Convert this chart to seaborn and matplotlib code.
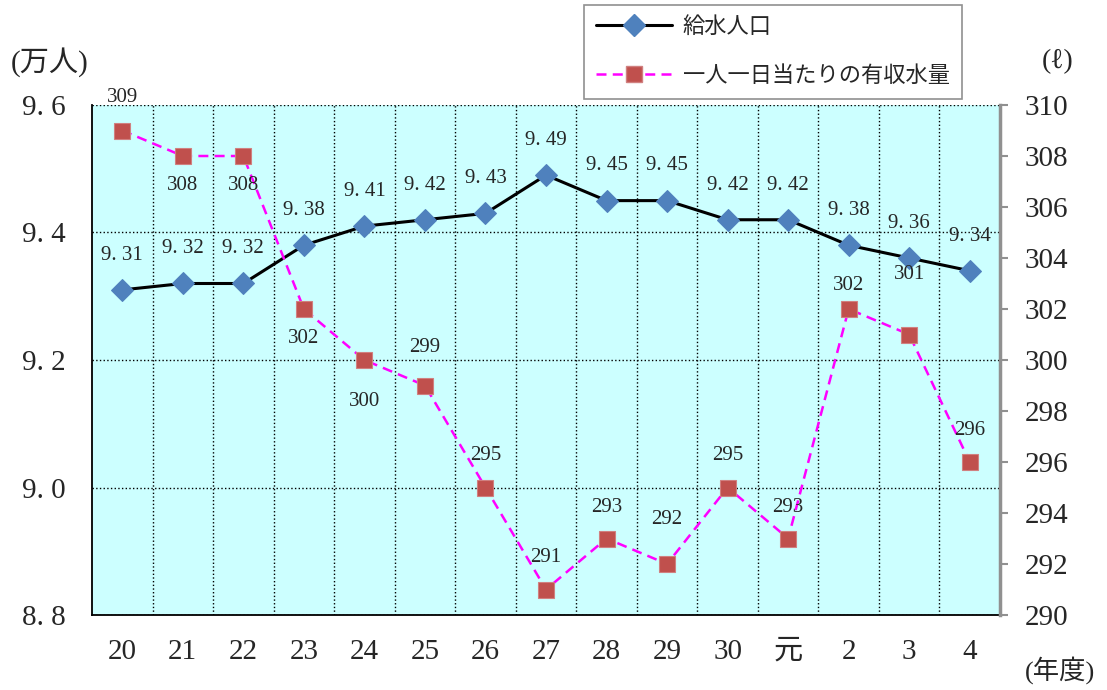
import numpy as np
import pandas as pd
import matplotlib
matplotlib.use("Agg")
import matplotlib.pyplot as plt
from matplotlib.lines import Line2D
import seaborn as sns

# 年度
years = ["20", "21", "22", "23", "24", "25", "26", "27", "28", "29", "30", "元", "2", "3", "4"]
# 給水人口（万人）
population = [9.31, 9.32, 9.32, 9.38, 9.41, 9.42, 9.43, 9.49, 9.45, 9.45, 9.42, 9.42, 9.38, 9.36, 9.34]
# 一人一日当たりの有収水量（ℓ）
water = [309, 308, 308, 302, 300, 299, 295, 291, 293, 292, 295, 293, 302, 301, 296]

left_ticks = [8.8, 9.0, 9.2, 9.4, 9.6]
right_ticks = list(range(290, 311, 2))

df = pd.DataFrame({"pos": np.arange(len(years)), "year": years,
                   "pop": population, "water": water})

sns.set_theme(style="white")
plt.rcParams["font.family"] = ["Liberation Serif", "Noto Sans CJK JP", "DejaVu Serif"]

fig = plt.figure(figsize=(11.07, 6.90), dpi=100)
ax = fig.add_axes([92 / 1107, 1 - 615 / 690, (1000 - 92) / 1107, (615 - 105) / 690])
ax.set_facecolor("#CCFFFF")
ax2 = ax.twinx()
ax2.patch.set_visible(False)

blue = "#4F81BD"
red = "#C0504D"

sns.lineplot(data=df, x="pos", y="pop", ax=ax, color="black", lw=2.2,
             marker="D", markersize=11, markerfacecolor=blue, markeredgecolor=blue)
sns.lineplot(data=df, x="pos", y="water", ax=ax2, color="#FF00FF", lw=1.8,
             linestyle=(0, (4, 2.5)), marker="s", markersize=11,
             markerfacecolor=red, markeredgecolor="#D08080", markeredgewidth=0.8)

# data labels
for x, v in zip(df["pos"], df["pop"]):
    ax.annotate(f"{v:.2f}".replace(".", ". "), (x, v), xytext=(0, 25),
                textcoords="offset points", ha="center", va="center", fontsize=15)

red_offsets = [24, -21, -21, -21, -30, 27, 23, 23, 22, 32, 23, 22, 17, 43, 23]
for x, v, off in zip(df["pos"], df["water"], red_offsets):
    ax2.annotate(str(v), (x, v), xytext=(0, off), textcoords="offset points",
                 ha="center", va="center", fontsize=15)

# axes
ax.set_xlim(-0.5, len(years) - 0.5)
ax.set_xticks(df["pos"])
ax.set_xticklabels(years)
ax.set_xticks(np.arange(0.5, len(years) - 1, 1), minor=True)
ax.set_ylim(8.8, 9.6)
ax.set_yticks(left_ticks)
ax.set_yticklabels([f"{t:.1f}".replace(".", ". ") for t in left_ticks])
ax2.set_ylim(290, 310)
ax2.set_yticks(right_ticks)
ax.set_xlabel("")
ax.set_ylabel("")
ax2.set_ylabel("")

ax.grid(axis="y", which="major", linestyle=":", color="black", lw=1.0)
ax.grid(axis="x", which="minor", linestyle=":", color="black", lw=1.0)
ax.grid(axis="x", which="major", visible=False)

ax.tick_params(axis="x", which="both", length=0, pad=17, labelsize=21)
ax.tick_params(axis="y", length=0, pad=19, labelsize=21)
ax2.tick_params(axis="y", length=6, width=1.5, color="#909090", pad=12,
                labelsize=21, direction="out")

for a in (ax, ax2):
    a.spines["top"].set_visible(False)
ax.spines["left"].set_color("black")
ax.spines["left"].set_linewidth(1.3)
ax.spines["bottom"].set_color("black")
ax.spines["bottom"].set_linewidth(1.3)
ax.spines["right"].set_visible(False)
ax2.spines["left"].set_visible(False)
ax2.spines["bottom"].set_visible(False)
ax2.spines["right"].set_color("#909090")
ax2.spines["right"].set_linewidth(2.5)

for a in (ax, ax2):
    if a.get_legend() is not None:
        a.get_legend().remove()

# unit labels
fig.text(50 / 1107, 1 - 62 / 690, "(万人)", ha="center", va="center", fontsize=21)
fig.text(1058 / 1107, 1 - 62 / 690, "(ℓ)", ha="center", va="center", fontsize=20)
fig.text(1060 / 1107, 1 - 670 / 690, "(年度)", ha="center", va="center", fontsize=19)

handles = [
    Line2D([], [], color="black", lw=2.2, marker="D", markersize=11,
           markerfacecolor=blue, markeredgecolor=blue),
    Line2D([], [], color="#FF00FF", lw=1.8, linestyle=(0, (4, 2.5)), marker="s",
           markersize=11, markerfacecolor=red, markeredgecolor="#D08080"),
]
leg = fig.legend(handles, ["給水人口", "一人一日当たりの有収水量"], loc="upper left",
                 bbox_to_anchor=(584 / 1107, 1 - 5 / 690), borderaxespad=0,
                 fontsize=16, handlelength=3.4, frameon=True, fancybox=False,
                 edgecolor="#909090", framealpha=1, borderpad=0.55, labelspacing=1.25,
                 handletextpad=0.5)
leg.get_frame().set_linewidth(1.2)

fig.savefig("out.png", dpi=100)
